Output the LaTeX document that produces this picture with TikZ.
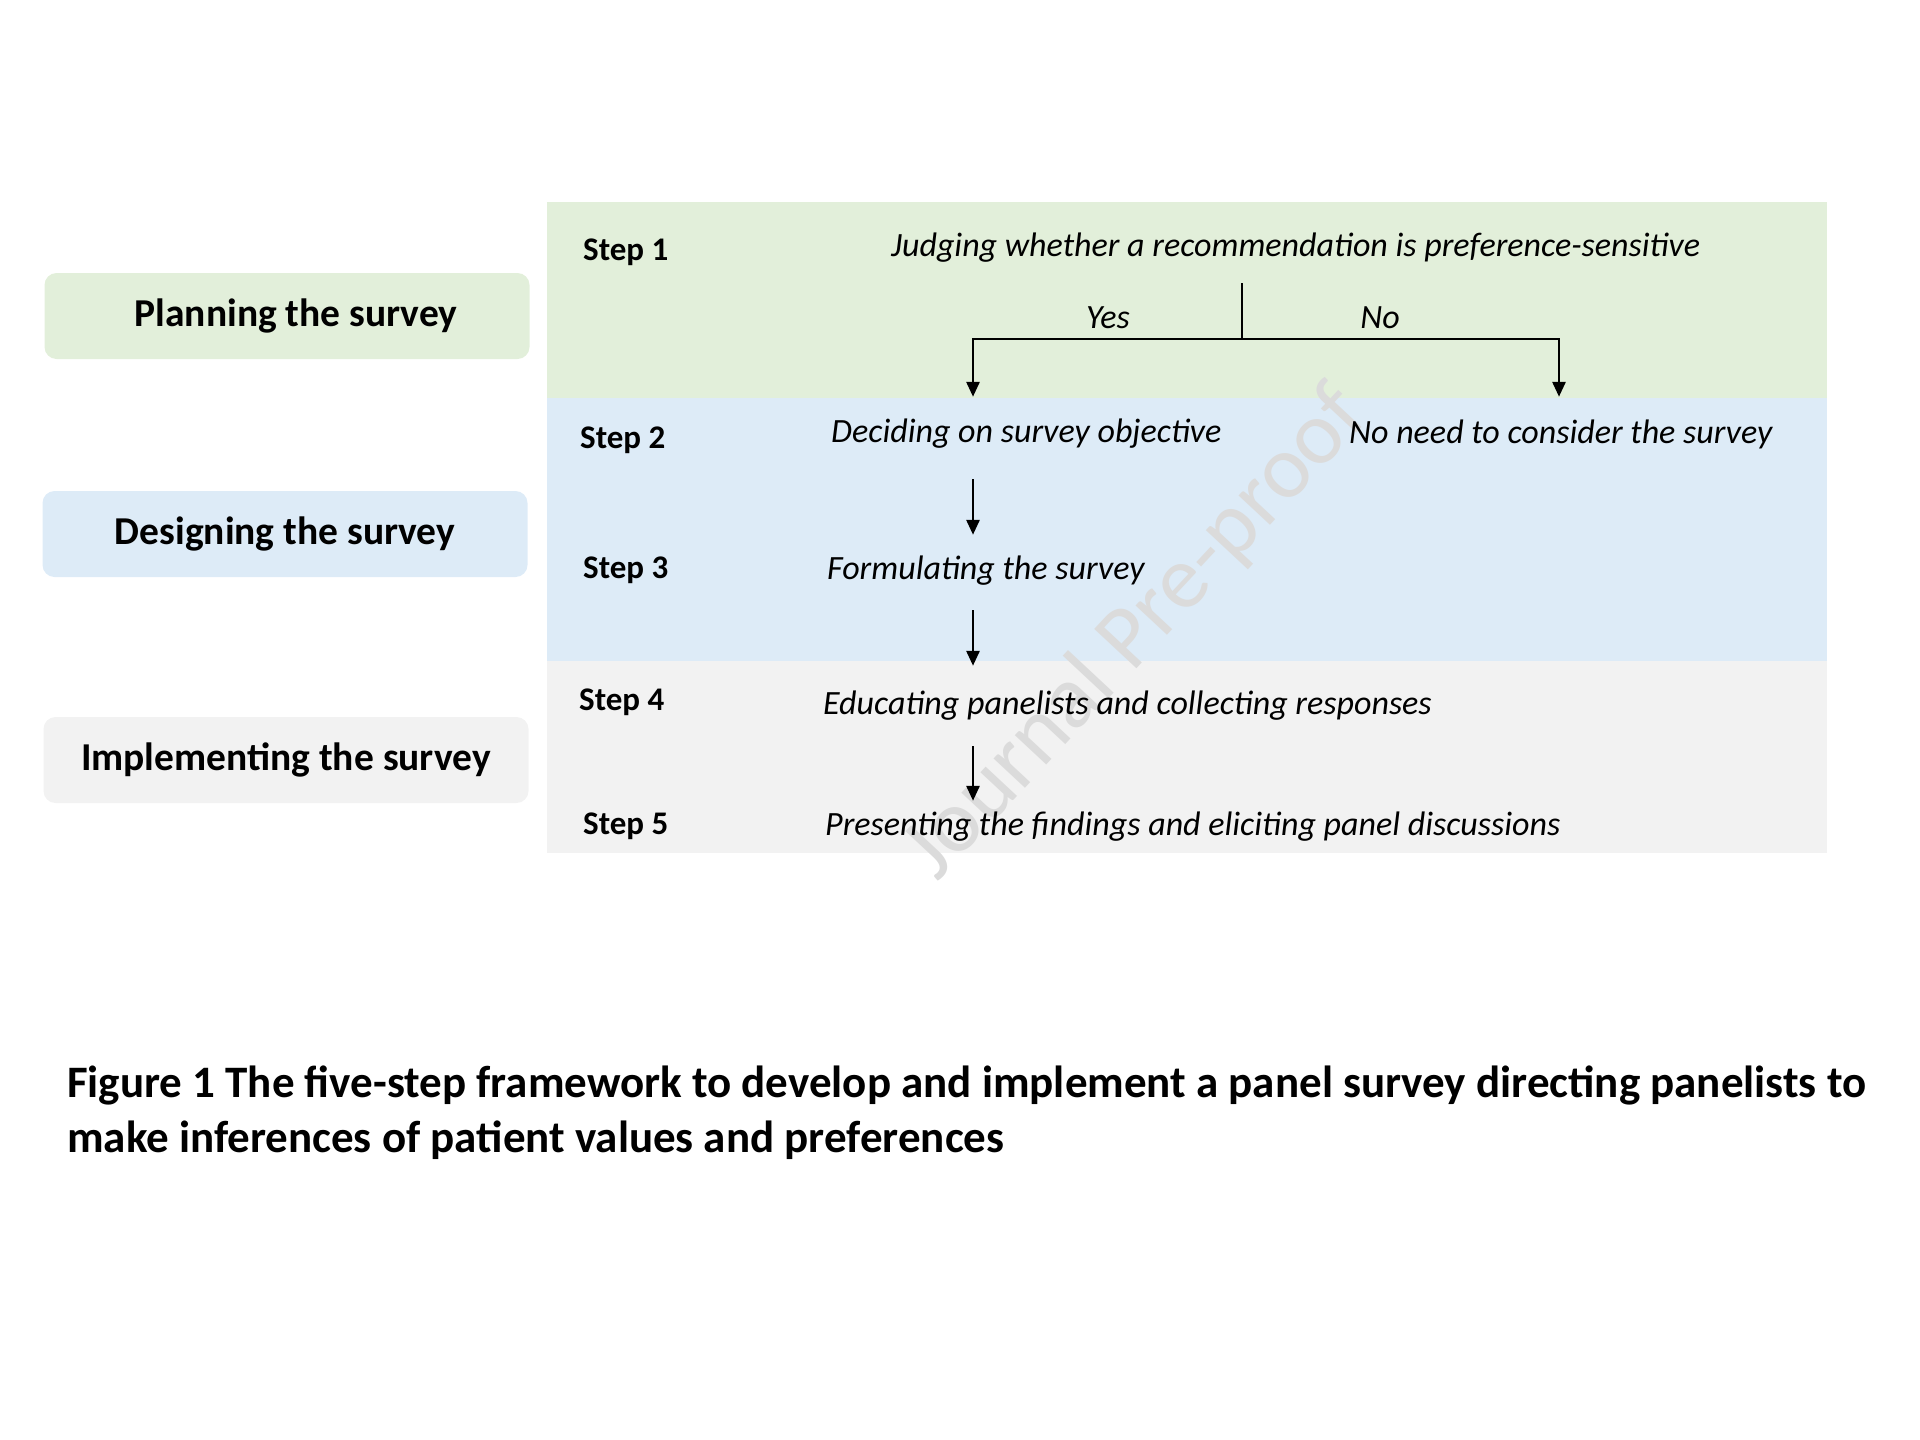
\documentclass[tikz,border=0pt]{standalone}
\usepackage{fontspec}
\setmainfont{Carlito}
\usetikzlibrary{arrows.meta}

\definecolor{planfill}{HTML}{E2EFDA}
\definecolor{designfill}{HTML}{DDEBF7}
\definecolor{implfill}{HTML}{F2F2F2}

\tikzset{
  phase/.style={rounded corners=12pt,minimum width=485pt,minimum height=86pt,inner sep=0pt,
    font=\fontsize{39.5}{46}\selectfont\bfseries},
  steplabel/.style={anchor=west,inner sep=0pt,font=\fontsize{33}{38}\selectfont\bfseries},
  task/.style={anchor=west,inner sep=0pt,text height=25pt,text depth=9pt,
    font=\fontsize{34}{40}\selectfont\itshape},
  arr/.style={line width=2.8pt,-{Triangle[length=15pt,width=13pt]}},
}

\begin{document}
\begin{tikzpicture}[x=1pt,y=-1pt]
  \useasboundingbox (0,0) rectangle (1920,1440);

  % bands
  \fill[planfill]   (547,202) rectangle (1827,398);
  \fill[designfill] (547,398) rectangle (1827,661);
  \fill[implfill]   (547,661) rectangle (1827,853);

  % watermark
  \node[rotate=47,text=black!14,font=\fontsize{90}{100}\selectfont] (mark) at (1136,634) {Journal Pre-proof};

  % phases
  \node[phase,fill=planfill]   (plan)   at (287,316) {\hspace*{18pt}Planning the survey};
  \node[phase,fill=designfill] (design) at (285,534) {Designing the survey};
  \node[phase,fill=implfill]   (impl)   at (286,760) {Implementing the survey};

  % steps
  \foreach \n/\x/\y in {1/583/252, 2/580/440, 3/583/570, 4/579/702, 5/583/826}
    \node[steplabel] (s\n) at (\x,\y) {Step \n};

  \node[task] (judge)     at (891,248)  {Judging whether a recommendation is preference-sensitive};
  \node[task] (decide)    at (831,434)  {Deciding on survey objective};
  \node[task] (noneed)    at (1349,435) {No need to consider the survey};
  \node[task] (formulate) at (827,571)  {Formulating the survey};
  \node[task] (educate)   at (823,706)  {Educating panelists and collecting responses};
  \node[task] (present)   at (825,827)  {Presenting the findings and eliciting panel discussions};

  \node[task,anchor=center] (yes) at (1108,320) {Yes};
  \node[task,anchor=center] (no)  at (1380,320) {No};

  % branch
  \coordinate (split) at (1242,339);
  \coordinate (ax) at (973,0);
  \coordinate (bx) at (1559,0);
  \draw[line width=2.8pt,shorten <=18pt] (judge.south -| split) -- (split);
  \draw[arr,shorten >=20pt] (split) -| (decide.north -| ax);
  \draw[arr,shorten >=21pt] (split) -| (noneed.north -| bx);

  \foreach \from/\to/\a/\b in {decide/formulate/28/19, formulate/educate/22/23, educate/present/23/9}
    \draw[arr,shorten <=\a pt,shorten >=\b pt] (\from.south -| ax) -- (\to.north -| ax);

  % caption
  \node[anchor=west,align=left,inner sep=0pt,font=\fontsize{45}{55}\selectfont\bfseries] (caption) at (67,1113)
    {Figure 1 The five-step framework to develop and implement a panel survey directing panelists to\\
     make inferences of patient values and preferences};
\end{tikzpicture}
\end{document}
